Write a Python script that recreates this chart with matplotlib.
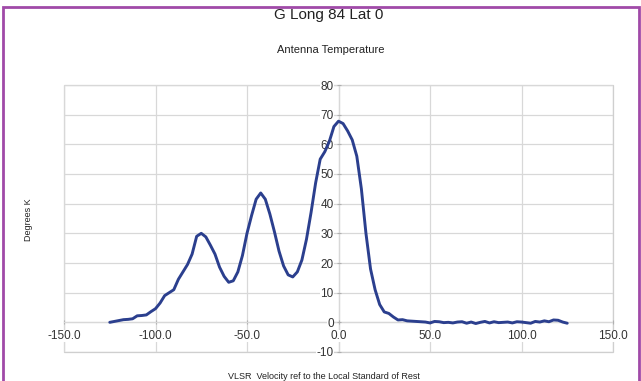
import numpy as np
import matplotlib
matplotlib.use("Agg")
import matplotlib.pyplot as plt
from matplotlib.patches import Rectangle

# VLSR velocity (km/s) and antenna temperature (K)
vlsr = [-125, -122.5, -120, -117.5, -115, -112.5, -110, -107.5, -105, -102.5,
        -100, -97.5, -95, -92.5, -90, -87.5, -85, -82.5, -80, -77.5,
        -75, -72.5, -70, -67.5, -65, -62.5, -60, -57.5, -55, -52.5,
        -50, -47.5, -45, -42.5, -40, -37.5, -35, -32.5, -30, -27.5,
        -25, -22.5, -20, -17.5, -15, -12.5, -10, -7.5, -5, -2.5,
        0, 2.5, 5, 7.5, 10, 12.5, 15, 17.5, 20, 22.5,
        25, 27.5, 30, 32.5, 35, 37.5, 40, 42.5, 45, 47.5,
        50, 52.5, 55, 57.5, 60, 62.5, 65, 67.5, 70, 72.5,
        75, 77.5, 80, 82.5, 85, 87.5, 90, 92.5, 95, 97.5,
        100, 102.5, 105, 107.5, 110, 112.5, 115, 117.5, 120, 122.5, 125]
temp_k = [0.0, 0.3, 0.6, 0.9, 1.0, 1.2, 2.2, 2.3, 2.5, 3.6,
          4.6, 6.5, 9.0, 10.0, 11.0, 14.5, 17.0, 19.5, 23.0, 29.0,
          30.0, 28.8, 26.0, 23.0, 18.6, 15.5, 13.5, 14.0, 17.0, 22.5,
          30.0, 36.0, 41.5, 43.6, 41.5, 36.5, 30.5, 24.0, 19.0, 16.0,
          15.3, 17.0, 21.0, 28.0, 37.0, 47.0, 55.0, 57.5, 61.0, 66.0,
          67.8, 67.0, 64.5, 61.5, 56.0, 45.0, 30.0, 18.0, 11.0, 6.0,
          3.5, 3.0, 1.8, 0.8, 0.9, 0.5, 0.4, 0.3, 0.2, 0.1,
          -0.2, 0.3, 0.2, -0.1, 0.0, -0.2, 0.1, 0.2, -0.3, 0.1,
          -0.4, 0.0, 0.3, -0.2, 0.2, -0.1, 0.0, 0.1, -0.2, 0.2,
          0.1, -0.1, -0.3, 0.3, 0.1, 0.5, 0.2, 0.8, 0.7, 0.1, -0.3]

xticks = [-150, -100, -50, 0, 50, 100, 150]
yticks = [-10, 0, 10, 20, 30, 40, 50, 60, 70, 80]

plt.rcParams['font.family'] = ['Liberation Sans', 'DejaVu Sans']

fig = plt.figure(figsize=(6.41, 3.81), dpi=100)
ax = fig.add_axes([64 / 641, 1 - 352 / 381, (613 - 64) / 641, (352 - 85) / 381])

ax.plot(vlsr, temp_k, color='#2b3f8e', lw=2.1, solid_capstyle='round', zorder=3)

ax.set_xlim(-150, 150); ax.set_ylim(-10, 80)
ax.set_xticks(xticks); ax.set_yticks(yticks)
ax.set_xticklabels([f"{v:.1f}" for v in xticks])
ax.set_yticklabels([str(v) for v in yticks])
ax.grid(True, color='#d8d8d8', lw=0.9)
ax.set_axisbelow(False)   # labels (with white boxes) above border and spines

# axes cross at the origin, Excel style
for s in ('top', 'right'):
    ax.spines[s].set_visible(False)
ax.spines['left'].set_position(('data', 0))
ax.spines['bottom'].set_position(('data', 0))
for s in ('left', 'bottom'):
    ax.spines[s].set_color('#b0b0b0'); ax.spines[s].set_zorder(2)
ax.tick_params(axis='both', labelsize=8.5, colors='#b0b0b0', labelcolor='#333333',
               length=3, direction='inout')
ax.tick_params(axis='x', pad=4)
ax.tick_params(axis='y', pad=2)
for lab in ax.get_xticklabels() + ax.get_yticklabels():
    lab.set_bbox(dict(fc='white', ec='none', pad=0.3))
ax.add_patch(Rectangle((0, 0), 1, 1, transform=ax.transAxes, fill=False,
                       ec='#cfcfcf', lw=0.9, clip_on=False, zorder=0.5))

fig.text(0.512, 1 - 15 / 381, "G Long 84 Lat 0", ha='center', va='center', fontsize=11, color='#222222')
fig.text(0.516, 1 - 50 / 381, "Antenna Temperature", ha='center', va='center', fontsize=8, color='#222222')
fig.text(0.044, 1 - 220 / 381, "Degrees K", ha='center', va='center', rotation=90, fontsize=6.5, color='#222222')
fig.text(0.505, 0.012, "VLSR  Velocity ref to the Local Standard of Rest", ha='center', va='center',
         fontsize=6.5, color='#222222')

# purple frame around the chart
fig.add_artist(Rectangle((3 / 641, -0.05), 636 / 641, 1 - 7 / 381 + 0.05, transform=fig.transFigure,
                         fill=False, ec='#a04aa8', lw=2.0))

fig.savefig("out.png", dpi=100)
